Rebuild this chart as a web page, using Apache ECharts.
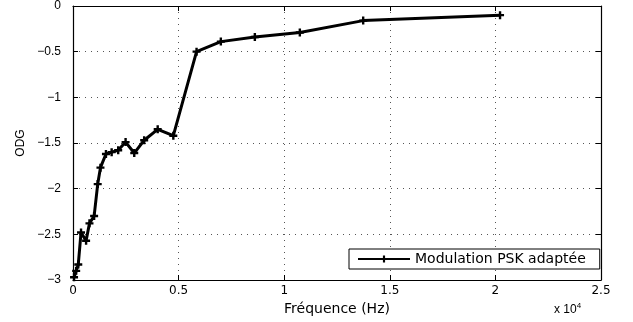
<!DOCTYPE html>
<html>
<head>
<meta charset="utf-8">
<script src="https://cdn.jsdelivr.net/npm/echarts@6/dist/echarts.min.js"></script>
<style>
  html, body { margin: 0; padding: 0; background: #fff; }
  #chart { width: 633px; height: 322px; }
</style>
</head>
<body>
<div id="chart"></div>
<script>
// Frequency (Hz) and ODG values
const freqHz = [50, 150, 250, 380, 620, 780, 1000, 1170, 1300, 1560, 1830, 2140,
  2490, 2900, 3370, 4010, 4750, 5850, 7000, 8610, 10740, 13740, 20220];
const odg = [-2.97, -2.90, -2.83, -2.48, -2.57, -2.38, -2.30, -1.95, -1.77, -1.62, -1.60, -1.58,
  -1.49, -1.61, -1.47, -1.35, -1.42, -0.50, -0.39, -0.34, -0.29, -0.16, -0.10];
const seriesName = 'Modulation PSK adaptée';

const FONT = '"Liberation Sans", Arial, sans-serif';
const WIDE = '"DejaVu Sans", sans-serif';
// MATLAB-style '+' marker, drawn as a filled cross
const plusMarker = 'path://M3.5,0H6.5V3.5H10V6.5H6.5V10H3.5V6.5H0V3.5H3.5Z';

const chart = echarts.init(document.getElementById('chart'));

const fmtY = (v) => String(v).replace('-', '\u2212');
const fmtX = (v) => String(v / 10000);

const gridLine = { show: true, lineStyle: { color: '#555', width: 1, type: [1, 5] } };
const axisLine = { show: true, onZero: false, lineStyle: { color: '#000', width: 1.2 } };
const tick = { show: true, inside: true, length: 5, lineStyle: { color: '#000' } };

chart.setOption({
  animation: false,
  textStyle: { fontFamily: FONT },
  grid: { left: 73, right: 32, top: 4, bottom: 42 },
  xAxis: [
    {
      type: 'value', min: 0, max: 25000, interval: 5000, position: 'bottom',
      name: 'Fréquence (Hz)', nameLocation: 'middle', nameGap: 22,
      nameTextStyle: { fontSize: 14, color: '#000', fontFamily: WIDE },
      axisLine, axisTick: tick, splitLine: gridLine,
      axisLabel: { formatter: fmtX, fontSize: 12, color: '#000', margin: 5, fontFamily: WIDE }
    },
    {
      type: 'value', min: 0, max: 25000, interval: 5000, position: 'top',
      axisLine, axisTick: tick, splitLine: { show: false }, axisLabel: { show: false }
    }
  ],
  yAxis: [
    {
      type: 'value', min: -3, max: 0, interval: 0.5, position: 'left',
      name: 'ODG', nameLocation: 'middle', nameGap: 46, nameRotate: 90,
      nameTextStyle: { fontSize: 12, color: '#000', fontFamily: FONT },
      axisLine, axisTick: tick, splitLine: gridLine,
      axisLabel: { formatter: fmtY, fontSize: 12, color: '#000', margin: 12, fontFamily: FONT }
    },
    {
      type: 'value', min: -3, max: 0, interval: 0.5, position: 'right',
      axisLine, axisTick: tick, splitLine: { show: false }, axisLabel: { show: false }
    }
  ],
  legend: {
    left: 349, top: 249,
    padding: [3, 14, 3, 8],
    backgroundColor: '#fff',
    borderColor: '#000', borderWidth: 1,
    itemWidth: 52, itemHeight: 9, itemGap: 8,
    textStyle: { fontSize: 14, color: '#000', fontFamily: WIDE },
    data: [seriesName]
  },
  series: [{
    name: seriesName,
    type: 'line',
    data: freqHz.map((f, i) => [f, odg[i]]),
    symbol: plusMarker,
    symbolSize: 8,
    showAllSymbol: true,
    lineStyle: { color: '#000', width: 3 },
    itemStyle: { color: '#000' },
    z: 5
  }],
  graphic: [{
    type: 'text', left: 554, top: 302,
    style: {
      text: '{a|x 10}{b|4}',
      rich: {
        a: { fontSize: 12, fontFamily: FONT, fill: '#000' },
        b: { fontSize: 8, fontFamily: FONT, fill: '#000', verticalAlign: 'top', padding: [0, 0, 8, 0] }
      }
    }
  }]
});
</script>
</body>
</html>
